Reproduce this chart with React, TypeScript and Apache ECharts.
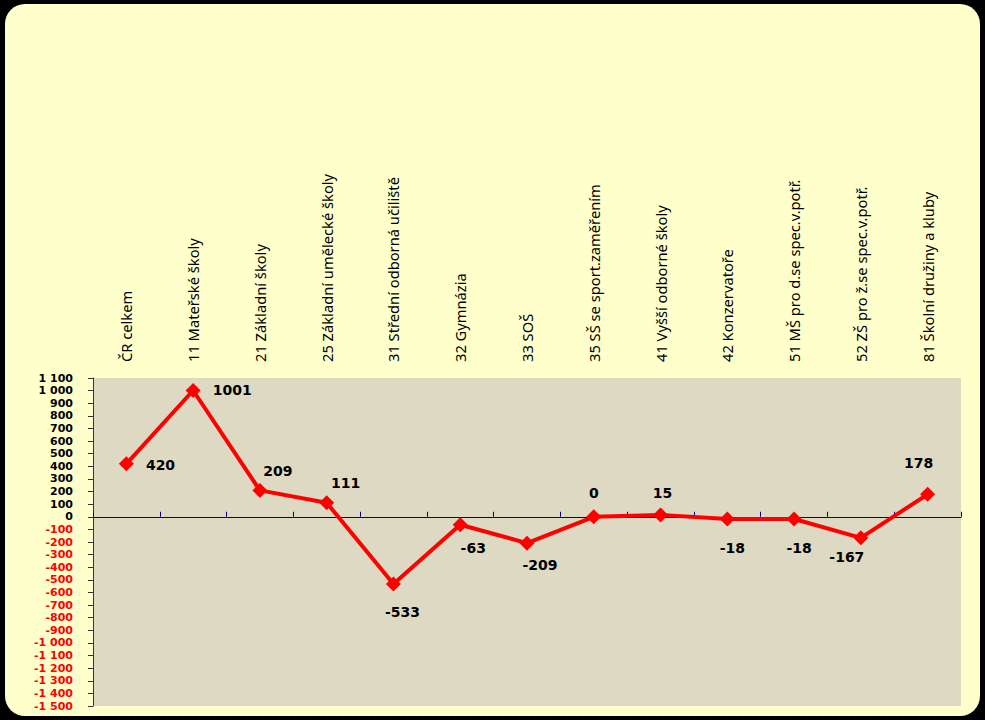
import React, { useEffect, useRef } from "react";
import * as echarts from "echarts";

const categories = [
  "ČR celkem",
  "11 Mateřské školy",
  "21 Základní školy",
  "25 Základní umělecké školy",
  "31 Střední odborná učiliště",
  "32 Gymnázia",
  "33 SOŠ",
  "35 SŠ se sport.zaměřením",
  "41 Vyšší odborné školy",
  "42 Konzervatoře",
  "51 MŠ pro d.se spec.v.potř.",
  "52 ZŠ pro ž.se spec.v.potř.",
  "81 Školní družiny a kluby",
];

const values = [420, 1001, 209, 111, -533, -63, -209, 0, 15, -18, -18, -167, 178];

const yMin = -1500;
const yMax = 1100;
const yStep = 100;

// label placement styling per point: [position, offsetX, offsetY, distance]
const labelPlacement: [string, number, number, number][] = [
  ["right", 0, 1, 12],
  ["right", 0, 0, 12],
  ["top", 18, 0, 5],
  ["top", 19, 0, 5],
  ["bottom", 9, 8, 5],
  ["bottom", 13, 4, 5],
  ["bottom", 13, 2, 5],
  ["top", 0, -4, 5],
  ["top", 2, -2, 5],
  ["bottom", 5, 9, 5],
  ["bottom", 5, 9, 5],
  ["bottom", -14, 0, 5],
  ["top", -9, -12, 5],
];

function fmt(v: number): string {
  const s = Math.abs(v)
    .toString()
    .replace(/\B(?=(\d{3})+(?!\d))/g, " ");
  return (v < 0 ? "-" : "") + s;
}

export default function App() {
  const ref = useRef<HTMLDivElement>(null);
  useEffect(() => {
    if (!ref.current) return;
    const chart = echarts.init(ref.current, undefined, { renderer: "svg" });
    chart.setOption({
      animation: false,
      backgroundColor: "#000000",
      graphic: [
        {
          type: "rect",
          z: -10,
          shape: { x: 5, y: 4, width: 975, height: 712, r: 20 },
          style: { fill: "#FFFFCC" },
        },
      ],
      grid: {
        left: 93,
        top: 378,
        width: 868,
        height: 328,
        show: true,
        backgroundColor: "#DDD9C3",
        borderWidth: 0,
        containLabel: false,
      },
      xAxis: [
        {
          type: "category",
          data: categories,
          position: "bottom",
          boundaryGap: true,
          axisLine: { show: true, onZero: true, lineStyle: { color: "#000080", width: 1 } },
          axisTick: { show: true, inside: true, interval: 0, length: 5, lineStyle: { color: "#000080" } },
          axisLabel: { show: false, interval: 0 },
          splitLine: { show: false },
        },
        {
          type: "category",
          data: categories,
          position: "top",
          boundaryGap: true,
          axisLine: { show: false, onZero: false },
          axisTick: { show: false },
          axisLabel: {
            show: true,
            interval: 0,
            rotate: -90,
            margin: 16,
            color: "#000000",
            fontFamily: "Noto Sans",
            fontSize: 14.7,
          },
          splitLine: { show: false },
        },
      ],
      yAxis: {
        type: "value",
        min: yMin,
        max: yMax,
        interval: yStep,
        axisLine: { show: true, lineStyle: { color: "#333333", width: 1 } },
        axisTick: { show: true, inside: false, length: 5, lineStyle: { color: "#333333" } },
        splitLine: { show: false },
        axisLabel: {
          margin: 20,
          fontFamily: "DejaVu Sans",
          fontWeight: "bold",
          fontSize: 11,
          formatter: (v: number) => fmt(v),
          color: (v: any) => (Number(v) < 0 ? "#FF0000" : "#000000"),
        },
      },
      series: [
        {
          type: "line",
          xAxisIndex: 0,
          data: values.map((v, i) => ({
            value: v,
            label: {
              position: labelPlacement[i][0],
              offset: [labelPlacement[i][1], labelPlacement[i][2]],
              distance: labelPlacement[i][3],
            },
          })),
          symbol: "diamond",
          symbolSize: 15,
          lineStyle: { color: "#FF0000", width: 4 },
          itemStyle: { color: "#FF0000" },
          label: {
            show: true,
            color: "#000000",
            fontFamily: "DejaVu Sans",
            fontWeight: "bold",
            fontSize: 14,
          },
        },
      ],
    });
    return () => chart.dispose();
  }, []);
  return (
    <div
      ref={ref}
      style={{ position: "fixed", left: 0, top: 0, width: 985, height: 720 }}
    />
  );
}
